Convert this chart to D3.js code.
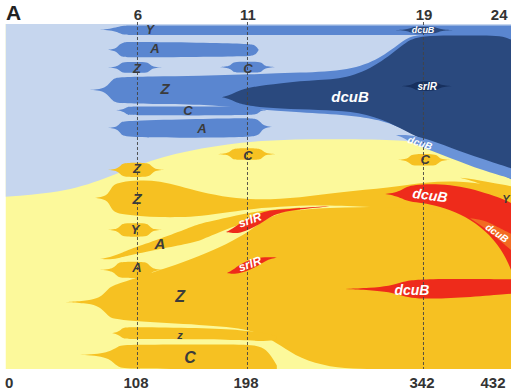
<!DOCTYPE html>
<html><head><meta charset="utf-8">
<script src="https://cdn.jsdelivr.net/npm/d3@7"></script>
<style>
html,body{margin:0;padding:0;background:#fff;}
svg{display:block;font-family:"Liberation Sans",Arial,sans-serif;}
</style></head>
<body>
<svg id="chart" width="513" height="392"></svg>
<script>
// ---- axis data (time = generations, top = passage numbers) ----
const bottomTicks = [0, 108, 198, 342, 432];
const topTicks = [108, 198, 342, 432];
const topTickLabels = ["6", "11", "19", "24"];
const passageLines = [108, 198, 342];
const visibleEnd = 413.6;

// ---- boundary of the blue (ancestral) population, % from top ----
const blueEdge = [[0,50.1],[50.3,48.7],[85.5,44.3],[118.2,39.4],[159.1,35.9],[208.2,33.6],[265.5,33.3],[322.8,33.6],[343.3,34.5],[363.7,36.5],[390.8,40.9],[413.6,44.8]];

// ---- clones: [time, top %, bottom %] ----
const cloneY_top      = [[77.3,1.6,1.6],[85.5,1.4,1.8],[92,0.9,2.3],[96.1,0.4,3.2],[106,0.4,3.2],[200,0.4,3.2],[300,0.4,3.2],[413.6,0.4,3.2]];
const cloneA_blue     = [[83.9,7.5,7.5],[88,7.3,7.7],[91,6.9,8.1],[93,6,9],[96,5.3,9.6],[101.9,5.2,9.7],[159.1,5.4,9.6],[198,5.7,9.4],[203,6.0,9.1],[205.5,6.6,8.5],[207,7.4,7.6]];
const cloneZ_blueSm   = [[83.9,12.6,12.6],[89.6,12.4,12.8],[92.6,12.0,13.2],[94.6,11.3,13.9],[97.4,11,14.2],[114.1,11,14.2],[117,11.3,13.9],[119,12,13.2],[121.5,12.4,12.8],[128,12.6,12.6]];
const cloneC_blueSm   = [[175.5,12.5,12.5],[181.2,12.3,12.7],[184.2,11.9,13.1],[186.2,11.2,13.8],[189,10.9,14.1],[206.6,10.9,14.1],[209.5,11.2,13.8],[211.5,11.9,13.1],[214,12.3,12.7],[220.5,12.5,12.5]];
const cloneZ_blueBig  = [[69.1,19.1,19.1],[77.3,18.9,19.3],[82,18.3,20],[85,17.2,21.2],[88,16,22.3],[91.5,15.4,23],[118.2,15.2,23.2],[159.1,15.1,23.2],[200,14.6,24.6],[241,14.1,25.6],[281.9,13.5,26.4],[306.5,10,27.8],[322.8,5.5,30],[332.7,3.2,31.8],[347.4,3.2,34.2],[380.1,3.2,39.3],[413.6,3.2,45]];
const cloneC_blue     = [[89.6,25,25],[95.3,24.8,25.2],[98,24.4,25.8],[100,24,26.3],[103,23.9,26.5],[200,23.9,26.5],[205.5,24.1,26.2],[208,24.7,25.4],[210.5,24.95,25.05],[216.4,25,25]];
const cloneA_blueLow  = [[83.9,30.1,30.1],[89.6,29.9,30.3],[92.6,29.3,31],[94.6,28.4,32],[98,28.1,32.9],[159.1,27.5,33],[200,27.2,32.8],[205.5,27.5,32.4],[208.5,28.4,31.6],[211,29.5,30.2],[218.1,29.8,29.8]];
const cloneDcuB_navy  = [[177.1,21.2,21.2],[183.7,20.6,21.8],[190.2,19.4,23],[200,18.3,23.8],[224.6,17.1,24.6],[257.3,16.2,24.9],[281.9,15.7,25.2],[308.9,11,27.5],[328.6,4.6,31.3],[341.7,3.5,33.6],[363.7,3.3,36.3],[390.8,3.3,39.6],[405,3.4,41.4],[413.6,4.5,42.3]];
const cloneDcuB_blueLow = [[319.5,32.2,32.2],[326,32.1,33],[332,32.3,34.4],[343.3,33.1,36.1],[363.7,35.8,38.8],[390.8,39.2,42.5],[413.6,41.8,44.8]];
const cloneDcuB_top   = [[319,1.8,1.8],[327,1.65,1.95],[330.5,1.3,2.3],[333,0.95,2.65],[336,0.8,2.8],[349,0.8,2.8],[352,0.95,2.65],[354.5,1.3,2.3],[358,1.65,1.95],[366,1.8,1.8]];
const cloneSrlR_navy  = [[324,18,18],[330,17.8,18.2],[333.5,17.4,18.6],[335.5,16.9,19.1],[338.5,16.6,19.4],[350,16.6,19.4],[353,16.9,19.1],[355,17.4,18.6],[358.5,17.8,18.2],[365,18,18]];

const cloneC_yelTop   = [[173.9,37.7,37.7],[180.4,37.5,37.9],[183.4,37.1,38.3],[185.4,36.4,39],[188.2,36,39.4],[206.6,36,39.4],[209.5,36.4,39],[211.5,37.1,38.3],[214,37.5,37.9],[221,37.7,37.7]];
const cloneZ_yelSm    = [[83.9,42.3,42.3],[89.6,42.1,42.5],[92.6,41.6,43],[94.6,40.8,43.8],[97.4,40.2,44.4],[115.8,40.2,44.4],[118.7,40.8,43.8],[120.7,41.6,43],[123.2,42.1,42.5],[129.7,42.3,42.3]];
const cloneC_yelRight = [[321.2,39.4,39.4],[326.9,39.2,39.6],[329.9,38.7,40.1],[331.9,38,40.8],[334.7,37.7,41.1],[349.9,37.7,41.1],[352.8,38,40.8],[354.8,38.7,40.1],[357.3,39.2,39.6],[363.7,39.4,39.4]];
const cloneZ_yelBig   = [[73.2,50.4,50.4],[79.8,50.1,50.7],[83.5,49.4,51.4],[86,48,53],[88.5,46.6,54.4],[93.7,45.8,55.1],[110,45.2,55.7],[126.4,45.5,56],[142.8,47,56],[159.1,48.7,55.7],[183.7,50.4,54.5],[208.2,51,53.3],[241,50.4,52.5],[273.7,48.7,52.6],[314.6,47.5,53.3],[343.3,45.8,54],[371.9,45.5,57.4],[396.5,46.6,64],[413.6,48.5,70.5]];
const cloneY_yel      = [[83.9,59.7,59.7],[89.6,59.5,59.9],[92.6,59,60.4],[94.6,58.2,61.2],[97.4,57.7,61.7],[114.1,57.7,61.7],[117,58.2,61.2],[119,59,60.4],[121.5,59.5,59.9],[128,59.7,59.7]];
const cloneA_yelWedge = [[77.3,68.1,68.1],[85.5,67.6,68.3],[93.7,66.6,67.8],[102,65.2,67],[126.4,62.3,65.2],[151,59,63.5],[159.1,57.8,62.8],[183.7,56,59],[208.2,54,56],[241,53.2,54]];
const cloneA_yelSm    = [[77.3,71.3,71.3],[85.5,71.1,71.5],[89,70.5,72.1],[91.2,69.6,73],[94,68.9,73.7],[114.1,68.9,73.7],[117,69.6,73],[119.2,70.5,72.1],[122,71.1,71.5],[130,71.3,71.3]];
const cloneZ_yelMain  = [[48.7,80.6,80.6],[65,80.3,80.9],[75,79.6,81.6],[80,78.4,83],[84,76.8,84.6],[88,75.7,85.5],[104.3,73.9,86.1],[132.1,70.7,86.7],[159.1,67.2,87.2],[181.2,63.8,87.8],[200,60,88.7],[212.3,56.5,90.5],[224.6,54.8,93],[241,53.8,97],[265.5,53.3,99.5],[290,53.1,100],[314.6,53,100],[343.3,53.5,100],[371.9,56,100],[396.5,62,100],[413.6,69,100]];
const cloneZ_yelLow   = [[87.1,89.6,89.6],[92,89.2,90],[94.5,88.6,90.7],[96.5,88,91.2],[101.9,87.8,91.3],[159.1,88.1,91.3],[194.3,88.7,91.6],[212.3,89.5,92],[222,90.5,91.5]];
const cloneC_yelLow   = [[61,95.9,95.9],[73.2,95.7,96.1],[83,95.2,96.8],[88,94.4,98],[92,93.5,99.3],[97,92.9,100],[159.1,92.9,100],[200,92.8,100],[209.9,93.6,100],[216.4,95.5,100],[222,99,100]];
const cloneY_yelRight = [[372,44.6,44.6],[384,45,45.6],[394,45.8,47.2],[402,46.3,49.2],[413.6,47,51.6]];

const cloneDcuB_red   = [[310.6,49.3,49.3],[318.7,48.9,49.8],[324,48.2,50.5],[328,47.2,51.2],[335.1,46.6,51.7],[347.4,46.4,52.2],[363.7,46.6,53.8],[380.1,47.6,56.5],[396.5,49.4,61],[408.7,51,67],[413.6,51.9,71.3]];
const cloneDcuB_orange= [[380.1,56.3,56.3],[390.8,56.8,58.8],[400.5,58.4,61.5],[413.6,60.8,65.5]];
const cloneSrlR_redUp = [[180.4,60.3,60.3],[186,59.3,60.6],[192,57.7,60.6],[200,56.2,59.5],[208.2,54.8,58],[214.8,54.1,56.3],[222,53.9,54.9],[235,53.5,54],[255,53,53.2],[265,52.8,52.8]];
const cloneSrlR_redLow= [[181.2,72.2,72.2],[186,71.3,72.5],[192,69.6,72.2],[200,68.4,71.3],[206.6,67.8,70.1],[212.3,67.6,68.7],[218,67.6,68],[222,67.7,67.7]];
const cloneDcuB_redLow= [[277.8,76.8,76.8],[298.3,76.5,77.1],[314.6,75.9,77.7],[322.8,75,78.6],[331,74.2,79.4],[347.4,73.9,79.7],[380.1,73.9,79.2],[413.6,74,78.2]];

// ---- clone labels: text, time, % ----
const labelTexts = ["Y","A","Z","C","Z","C","A","dcuB","srlR","dcuB","dcuB","C","C","Z","Z","Y","A","A","Z","z","C","srlR","srlR","dcuB","dcuB","Y","dcuB"];
const labelT = [118.2,122.3,107.6,198.4,130.5,149.3,160.8,281.9,345,341.7,339.2,198.4,343.3,107.6,107.6,106,126.4,107.6,142.8,142.8,151,200,200,347.4,402.2,409.5,332.5];
const labelF = [1.7,7.2,12.8,12.8,18.8,25.2,30.4,20.9,18,1.7,34.5,38,39.4,42,50.7,59.7,63.5,70.7,79.1,90.1,96.8,56.8,69.6,49.6,60.6,50.7,77.1];

// ---- styles ----
const C = {
  lightBlue:"#c6d6ee", midBlue:"#5a86d0", navy:"#2a497e", darkNavy:"#17305e", bandBlue:"#6a93d8",
  lightYellow:"#fcf99b", orange:"#f6c122", red:"#ee2b1b", orangeRed:"#f26b22", text:"#3b3b3b"
};
// [fontSize, colorKey, rotate]
const labelStyle = [
  [12,"text",0],[13,"text",0],[13,"text",0],[13,"text",0],[15,"text",0],[13,"text",0],[13,"text",0],
  [15,"white",0],[10,"white",0],[9,"white",0],[10,"white",18],
  [13,"text",0],[13,"text",0],[13,"text",0],[15,"text",0],[13,"text",0],[15,"text",0],[13,"text",0],
  [16,"text",0],[11,"text",0],[16,"text",0],
  [12,"white",-20],[12,"white",-20],[14,"white",8],[10,"white",35],[11,"text",0],[14,"white",0]
];

const layers = [
  [cloneY_top,C.midBlue],[cloneA_blue,C.midBlue],[cloneZ_blueSm,C.midBlue],[cloneC_blueSm,C.midBlue],
  [cloneZ_blueBig,C.midBlue],[cloneC_blue,C.midBlue],[cloneA_blueLow,C.midBlue],
  [cloneDcuB_navy,C.navy],[cloneDcuB_blueLow,C.bandBlue],[cloneDcuB_top,C.navy],[cloneSrlR_navy,C.darkNavy],
  [cloneC_yelTop,C.orange],[cloneZ_yelSm,C.orange],[cloneC_yelRight,C.orange],[cloneZ_yelBig,C.orange],
  [cloneY_yel,C.orange],[cloneA_yelWedge,C.orange],[cloneA_yelSm,C.orange],[cloneZ_yelMain,C.orange],
  [cloneZ_yelLow,C.orange],[cloneC_yelLow,C.orange],[cloneY_yelRight,C.orange],
  [cloneDcuB_red,C.red],[cloneDcuB_orange,C.orangeRed],[cloneSrlR_redUp,C.red],[cloneSrlR_redLow,C.red],[cloneDcuB_redLow,C.red]
];

const svg = d3.select("#chart");
const x = d3.scaleLinear().domain([0, visibleEnd]).range([5.5, 511]).clamp(true);
const y = d3.scaleLinear().domain([0, 100]).range([24, 369]);

svg.append("defs").append("clipPath").attr("id","plotClip")
  .append("rect").attr("x",x(0)).attr("y",y(0)).attr("width",x(visibleEnd)-x(0)).attr("height",y(100)-y(0));

const plot = svg.append("g").attr("clip-path","url(#plotClip)");
plot.append("rect").attr("x",x(0)).attr("y",y(0)).attr("width",x(visibleEnd)-x(0)).attr("height",y(100)-y(0)).attr("fill",C.lightYellow);

plot.append("path").datum(blueEdge)
  .attr("d", d3.area().x(d=>x(d[0])).y0(y(0)).y1(d=>y(d[1])).curve(d3.curveBasis))
  .attr("fill", C.lightBlue);

const fish = d3.area().x(d=>x(d[0])).y0(d=>y(d[1])).y1(d=>y(d[2])).curve(d3.curveBasis);
layers.forEach(([data, col]) => {
  plot.append("path").datum(data).attr("d", fish).attr("fill", col);
});

// dashed passage lines
svg.selectAll("line.pass").data(passageLines).join("line").attr("class","pass")
  .attr("x1",d=>x(d)).attr("x2",d=>x(d)).attr("y1",22).attr("y2",y(100))
  .attr("stroke","#444").attr("stroke-width",0.9).attr("stroke-dasharray","3,2");

// labels
labelTexts.forEach((t,i)=>{
  const [fs,ck,rot] = labelStyle[i];
  svg.append("text")
    .attr("transform",`translate(${x(labelT[i])},${y(labelF[i])}) rotate(${rot})`)
    .attr("text-anchor","middle").attr("dominant-baseline","central")
    .attr("font-size",fs).attr("font-weight","bold").attr("font-style","italic")
    .attr("fill", ck==="white" ? "#fff" : C[ck]).text(t);
});

// bottom axis
const xAxisB = d3.axisBottom(x).tickValues(bottomTicks).tickSize(0).tickPadding(8).tickFormat(d3.format("d"));
const gB = svg.append("g").attr("transform",`translate(0,${y(100)})`).call(xAxisB);
gB.select(".domain").remove();
gB.selectAll("text").attr("font-size",15).attr("font-weight","bold").attr("fill","#333")
  .attr("font-family","'Liberation Sans',Arial,sans-serif")
  .attr("text-anchor",(d)=> d===0 ? "start" : d===432 ? "end" : "middle")
  .attr("dx",(d)=> d===0 ? -1 : d===432 ? -6 : -2);

// top axis
const xAxisT = d3.axisTop(x).tickValues(topTicks).tickSize(0).tickPadding(4).tickFormat((d,i)=>topTickLabels[i]);
const gT = svg.append("g").attr("transform",`translate(0,${y(0)})`).call(xAxisT);
gT.select(".domain").remove();
gT.selectAll("text").attr("font-size",15).attr("font-weight","bold").attr("fill","#333")
  .attr("font-family","'Liberation Sans',Arial,sans-serif")
  .attr("text-anchor",(d)=> d===432 ? "end" : "middle")
  .attr("dx",(d)=> d===432 ? -4 : 0);

// panel letter
svg.append("text").attr("x",6).attr("y",20).attr("font-size",21).attr("font-weight","bold").attr("fill","#222").text("A");
</script>
</body></html>
